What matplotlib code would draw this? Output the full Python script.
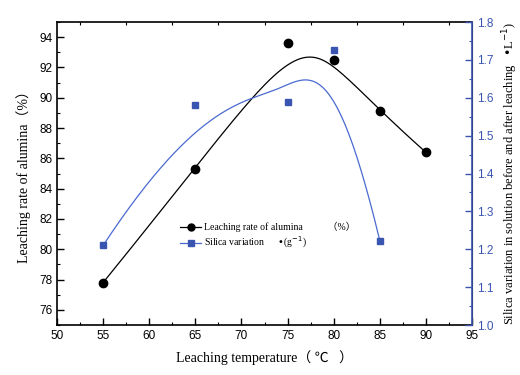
import numpy as np
import matplotlib
matplotlib.use("Agg")
import matplotlib.pyplot as plt
from matplotlib.ticker import MultipleLocator, FormatStrFormatter
from matplotlib.lines import Line2D

temp_al = [55, 65, 75, 80, 85, 90]
alumina = [77.8, 85.3, 93.6, 92.5, 89.1, 86.4]
temp_si = [55, 65, 75, 80, 85]
silica = [1.21, 1.58, 1.59, 1.727, 1.223]

serif = ['Liberation Serif', 'Noto Sans CJK SC', 'DejaVu Sans']
sans = ['Liberation Sans', 'DejaVu Sans']
blue = '#3a55b0'
blue_line = '#4a6ad0'


def bspline(xs, ys, n=300, k=3):
    # clamped B-spline using the data points as control points
    P = np.column_stack([xs, ys]).astype(float)
    m = len(P)
    k = min(k, m - 1)
    knots = np.concatenate([np.zeros(k), np.linspace(0, 1, m - k + 1), np.ones(k)])
    t = np.linspace(0, 1, n)
    t[-1] -= 1e-9
    N = np.zeros((n, len(knots) - 1))
    for i in range(len(knots) - 1):
        N[:, i] = (knots[i] <= t) & (t < knots[i + 1])
    for d in range(1, k + 1):
        newN = np.zeros((n, len(knots) - 1 - d))
        for i in range(len(knots) - 1 - d):
            a = knots[i + d] - knots[i]
            b = knots[i + d + 1] - knots[i + 1]
            left = (t - knots[i]) / a * N[:, i] if a > 0 else 0
            right = (knots[i + d + 1] - t) / b * N[:, i + 1] if b > 0 else 0
            newN[:, i] = left + right
        N = newN
    C = N[:, :m] @ P
    return C[:, 0], C[:, 1]


fig = plt.figure(figsize=(5.2, 3.75), dpi=100)
ax = fig.add_axes([57 / 520, 50 / 375, 415 / 520, 303 / 375])
ax2 = ax.twinx()

bx, by = bspline(temp_al, alumina)
ax.plot(bx, by, color='black', lw=0.9)
ax.plot(temp_al, alumina, 'o', color='black', ms=6)

sx, sy = bspline(temp_si, silica)
ax2.plot(sx, sy, color=blue_line, lw=0.9)
ax2.plot(temp_si, silica, 's', color=blue, ms=5)

ax.set_xlim(50, 95)
ax.set_ylim(75, 95)
ax2.set_ylim(1.0, 1.8)

ax.xaxis.set_major_locator(MultipleLocator(5))
ax.xaxis.set_minor_locator(MultipleLocator(2.5))
ax.yaxis.set_major_locator(MultipleLocator(2))
ax.yaxis.set_minor_locator(MultipleLocator(1))
ax2.yaxis.set_major_locator(MultipleLocator(0.1))
ax2.yaxis.set_minor_locator(MultipleLocator(0.05))

ax.tick_params(which='both', direction='in', top=True, right=False, labelsize=8.5)
ax.tick_params(which='major', length=5, width=1)
ax.tick_params(which='minor', length=2.5, width=0.8)
ax.tick_params(axis='x', which='major', top=False)
ax2.tick_params(which='both', direction='in', colors=blue, labelsize=8.5)
ax2.tick_params(which='major', length=5, width=1)
ax2.tick_params(which='minor', length=2.5, width=0.8)

for lab in ax.get_xticklabels() + ax.get_yticklabels() + ax2.get_yticklabels():
    lab.set_family(sans)
ax2.yaxis.set_major_formatter(FormatStrFormatter('%.1f'))

for s in ['left', 'bottom', 'top']:
    ax.spines[s].set_linewidth(1.2)
ax2.spines['right'].set_color(blue)
ax2.spines['right'].set_linewidth(1.2)
for s in ['left', 'bottom', 'top']:
    ax2.spines[s].set_visible(False)

ax.set_xlabel('Leaching temperature（ ℃   ）', family=serif, fontsize=10, labelpad=6)
ax.set_ylabel('Leaching rate of alumina（%）', family=serif, fontsize=10, labelpad=6)
ax2.set_ylabel('Silica variation in solution before and after leaching   •L$^{-1}$)',
               family=serif, fontsize=9, labelpad=5)

handles = [Line2D([], [], color='black', marker='o', ms=5, lw=0.9),
           Line2D([], [], color=blue_line, marker='s', mfc=blue, mec=blue, ms=4.5, lw=0.9)]
labels = ['Leaching rate of alumina          （%）', 'Silica variation      •(g$^{-1}$)']
fig.legend(handles, labels, loc='upper left', bbox_to_anchor=(176 / 520, 1 - 218 / 375),
           frameon=False, prop={'family': serif, 'size': 7}, handlelength=2.2,
           handletextpad=0.3, labelspacing=0.3, borderaxespad=0)

fig.savefig('out.png', dpi=100)
